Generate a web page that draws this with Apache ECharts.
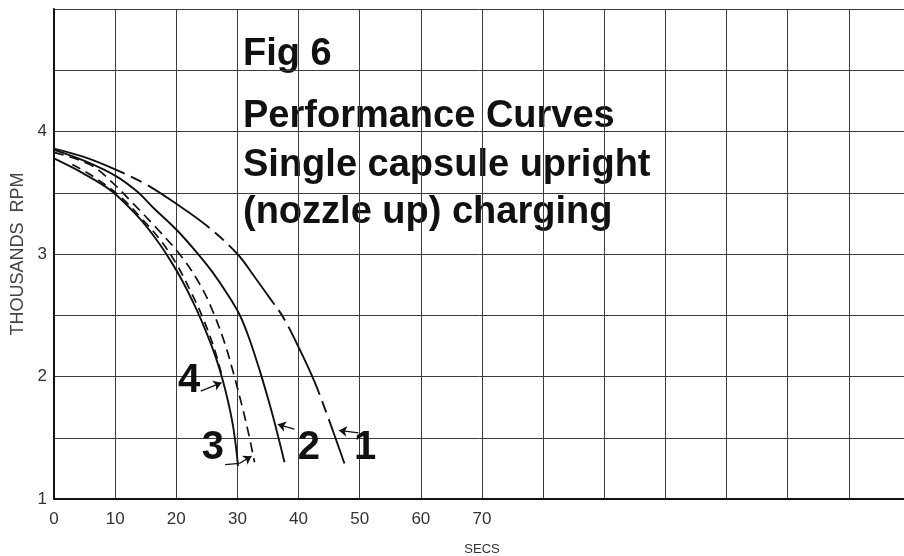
<!DOCTYPE html>
<html>
<head>
<meta charset="utf-8">
<script src="https://cdn.jsdelivr.net/npm/echarts@6/dist/echarts.min.js"></script>
<style>
  html, body { margin: 0; padding: 0; background: #fff; }
  #chart { width: 904px; height: 556px; }
</style>
</head>
<body>
<div id="chart"></div>
<script>
// Rotor speed (thousands of RPM) against elapsed time (seconds), [secs, rpm]
const curve1 = [[0, 3.86], [5, 3.79], [10, 3.69], [15, 3.57], [20, 3.41], [25, 3.23], [30, 3.0],
  [33, 2.8], [35, 2.66], [37.4, 2.49], [40, 2.24], [42.5, 1.97], [44.8, 1.67], [46.3, 1.46], [47.5, 1.29]];
const curve2 = [[0, 3.85], [5, 3.76], [10, 3.64], [13.6, 3.51], [16.2, 3.38], [20, 3.2], [23.4, 3.01],
  [25.8, 2.86], [28.4, 2.67], [30.4, 2.5], [32, 2.3], [33.7, 2.04], [35, 1.82], [36.1, 1.62], [37.7, 1.3]];
const curve3 = [[0, 3.83], [5.9, 3.73], [9.2, 3.6], [12.4, 3.44], [16.8, 3.21], [21, 2.97], [24, 2.74],
  [26, 2.53], [28, 2.26], [29.5, 2.0], [30.8, 1.75], [31.8, 1.54], [32.8, 1.3]];
const curve4 = [[3, 3.73], [6.5, 3.63], [10.8, 3.47], [14.5, 3.28], [17.3, 3.12], [20, 2.92],
  [22.5, 2.68], [24.5, 2.46], [26.2, 2.23], [27.5, 2.0]];
const curve5 = [[0, 3.78], [4.7, 3.66], [9.5, 3.51], [14, 3.29], [17, 3.1], [19, 2.95], [21, 2.78],
  [23, 2.58], [25, 2.35], [26.5, 2.15], [27.6, 1.97], [28.5, 1.79], [29.2, 1.62], [29.7, 1.45], [30.1, 1.27]];

// Curve numbers and the leader lines that point from each number to its curve
const curveNumbers = ['1', '2', '3', '4'];
const numberPositions = [[50.9, 1.42], [41.7, 1.42], [26.0, 1.42], [22.1, 1.96]];
const leaderArrows = [
  [[49.8, 1.54], [46.6, 1.56]],
  [[39.3, 1.57], [36.6, 1.61]],
  [[30.3, 1.29], [32.3, 1.35]],
  [[24.0, 1.88], [27.4, 1.95]]
];
const leaderTails = [
  [[28.0, 1.28], [30.3, 1.29]]
];

// Axis ranges and the values that carry tick labels
const secsRange = [0, 140];
const rpmRange = [1, 5];
const secsLabelled = [0, 10, 20, 30, 40, 50, 60, 70];
const rpmLabelled = [1, 2, 3, 4];

const titleLines = ['Fig 6', 'Performance Curves', 'Single capsule upright', '(nozzle up) charging'];
const titleCentres = [55, 117, 166, 213];

const ink = '#111';
const gridInk = '#3c3c3c';
const thinFont = '"Liberation Sans Narrow", "Liberation Sans", Arial, sans-serif';
const boldFont = '"Liberation Sans", Arial, Helvetica, sans-serif';

const chart = echarts.init(document.getElementById('chart'), null, { renderer: 'canvas' });

function curveSeries(name, data, lineType, width) {
  return {
    name, type: 'line', data, showSymbol: false, symbol: 'none',
    smooth: 0.35, animation: false, silent: true,
    lineStyle: { color: ink, width, type: lineType, cap: 'butt' }
  };
}

function leaderSeries(paths, withArrow) {
  return {
    type: 'lines', coordinateSystem: 'cartesian2d', silent: true, animation: false,
    symbol: withArrow ? ['none', 'arrow'] : ['none', 'none'], symbolSize: 8,
    lineStyle: { color: ink, width: 1.3, opacity: 1 },
    data: paths.map(p => ({ coords: p }))
  };
}

chart.setOption({
  backgroundColor: '#fff',
  animation: false,
  grid: { left: 54, top: 9, width: 856, height: 490, outerBoundsMode: 'none', containLabel: false },
  xAxis: {
    type: 'value', min: secsRange[0], max: secsRange[1], interval: 10,
    name: 'SECS', nameLocation: 'middle', nameGap: 44,
    nameTextStyle: { fontFamily: thinFont, fontSize: 13, color: '#333' },
    axisLine: { show: true, onZero: false, lineStyle: { color: ink, width: 2 } },
    axisTick: { show: false },
    axisLabel: {
      fontFamily: thinFont, fontSize: 17, color: '#333', margin: 12,
      formatter: v => secsLabelled.includes(v) ? String(v) : ''
    },
    splitLine: { show: true, lineStyle: { color: gridInk, width: 1 } }
  },
  yAxis: {
    type: 'value', min: rpmRange[0], max: rpmRange[1], interval: 0.5,
    name: 'THOUSANDS  RPM', nameLocation: 'middle', nameGap: 27, nameRotate: 90,
    nameTextStyle: { fontFamily: boldFont, fontSize: 18, color: '#444' },
    axisLine: { show: true, onZero: false, lineStyle: { color: ink, width: 2 } },
    axisTick: { show: false },
    axisLabel: {
      fontFamily: thinFont, fontSize: 17, color: '#333', margin: 7,
      formatter: v => rpmLabelled.includes(v) ? String(v) : ''
    },
    splitLine: { show: true, lineStyle: { color: gridInk, width: 1 } }
  },
  graphic: titleLines.map((t, i) => ({
    type: 'text', left: 243, top: titleCentres[i] - 19, silent: true,
    style: { text: t, font: 'bold 38px ' + boldFont, fill: ink }
  })),
  series: [
    curveSeries('1', curve1, [75, 7, 12, 7], 1.9),
    curveSeries('2', curve2, 'solid', 1.9),
    curveSeries('3', curve3, [10, 6], 1.7),
    curveSeries('4', curve4, [9, 6], 1.7),
    curveSeries('5', curve5, 'solid', 1.9),
    leaderSeries(leaderArrows, true),
    leaderSeries(leaderTails, false),
    {
      type: 'scatter', symbolSize: 0, silent: true, animation: false,
      itemStyle: { opacity: 1 },
      data: curveNumbers.map((n, i) => ({ name: n, value: numberPositions[i] })),
      label: {
        show: true, position: 'inside', formatter: '{b}', opacity: 1,
        fontFamily: boldFont, fontWeight: 'bold', fontSize: 40, color: ink
      }
    }
  ]
});
</script>
</body>
</html>
